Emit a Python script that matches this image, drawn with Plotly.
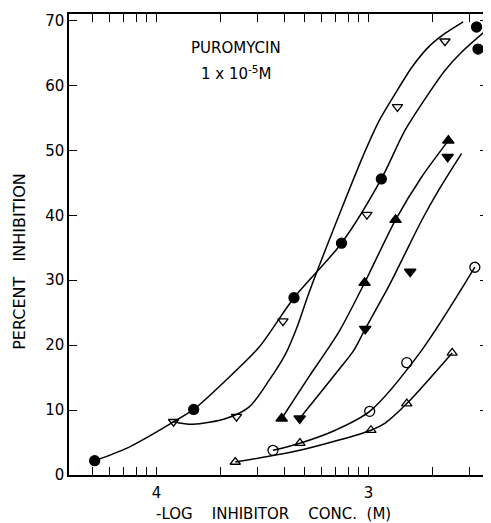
import plotly.graph_objects as go

# ---- data: x as -log10 inhibitor concentration (M), y as percent inhibition ----
filled_circle_x = [4.292, 3.825, 3.352, 3.128, 2.940, 2.491, 2.484]
filled_circle_y = [2.2, 10.1, 27.3, 35.7, 45.6, 69.0, 65.6]

open_down_x = [3.920, 3.623, 3.404, 3.008, 2.864, 2.640]
open_down_y = [8.2, 9.0, 23.7, 40.1, 56.7, 66.8]

filled_up_x = [3.410, 3.019, 2.873, 2.624]
filled_up_y = [8.7, 29.6, 39.3, 51.5]

filled_down_x = [3.325, 3.016, 2.804, 2.627]
filled_down_y = [8.7, 22.5, 31.3, 49.0]

open_circle_x = [3.451, 2.995, 2.820, 2.499]
open_circle_y = [3.8, 9.8, 17.3, 32.0]

open_up_x = [3.629, 3.324, 2.989, 2.820, 2.606]
open_up_y = [2.0, 4.9, 6.9, 11.0, 18.8]

# ---- hand-drawn fitted curves ----
curve_filled_circle_x = [4.292, 4.142, 3.986, 3.920, 3.825, 3.673, 3.516, 3.352,
                         3.128, 2.940, 2.828, 2.718, 2.640, 2.562, 2.445]
curve_filled_circle_y = [2.2, 4.1, 6.9, 8.2, 10.1, 14.6, 19.7, 27.3,
                         35.7, 45.6, 53.1, 58.7, 62.3, 65.1, 68.5]

curve_open_down_x = [3.920, 3.829, 3.673, 3.563, 3.469, 3.391, 3.335, 3.282,
                     3.125, 3.015, 2.953, 2.875, 2.796, 2.718, 2.640, 2.554]
curve_open_down_y = [8.2, 7.8, 8.7, 10.5, 14.6, 18.7, 23.0, 28.0,
                     41.2, 50.0, 54.4, 58.7, 62.8, 65.9, 68.0, 69.8]

curve_filled_up_x = [3.410, 3.282, 3.141, 3.019, 2.873, 2.750, 2.624]
curve_filled_up_y = [8.7, 15.1, 22.0, 29.6, 39.3, 45.9, 51.5]

curve_filled_down_x = [3.325, 3.141, 3.070, 3.016, 2.906, 2.828, 2.750, 2.671, 2.562]
curve_filled_down_y = [8.7, 16.2, 19.2, 22.5, 29.0, 34.1, 39.2, 43.8, 49.5]

curve_open_circle_x = [3.451, 3.324, 3.157, 2.995, 2.750, 2.499]
curve_open_circle_y = [3.8, 4.9, 6.9, 9.8, 19.2, 32.0]

curve_open_up_x = [3.629, 3.324, 2.989, 2.922, 2.820, 2.606]
curve_open_up_y = [2.0, 3.8, 6.9, 8.0, 11.0, 18.8]

major_tick_neglog = [4, 3]
major_tick_text = ["4", "3"]
minor_tick_conc = [5e-5, 6e-5, 7e-5, 8e-5, 9e-5,
                   2e-4, 3e-4, 4e-4, 5e-4, 6e-4, 7e-4, 8e-4, 9e-4,
                   2e-3, 3e-3]

y_ticks = [0, 10, 20, 30, 40, 50, 60, 70]


def conc(v):
    return [10 ** (-a) for a in v]


FONT = "DejaVu Sans"
fig = go.Figure()

curves = [
    (curve_filled_circle_x, curve_filled_circle_y),
    (curve_open_down_x, curve_open_down_y),
    (curve_filled_up_x, curve_filled_up_y),
    (curve_filled_down_x, curve_filled_down_y),
    (curve_open_circle_x, curve_open_circle_y),
    (curve_open_up_x, curve_open_up_y),
]
for cx, cy in curves:
    fig.add_trace(go.Scatter(x=conc(cx), y=cy, mode="lines",
                             line=dict(color="black", width=1.5, shape="spline", smoothing=0.8),
                             hoverinfo="skip", showlegend=False))

markers = [
    (filled_circle_x, filled_circle_y, "circle", 10),
    (open_down_x, open_down_y, "triangle-down-open", 9),
    (filled_up_x, filled_up_y, "triangle-up", 10),
    (filled_down_x, filled_down_y, "triangle-down", 10),
    (open_circle_x, open_circle_y, "circle-open", 10),
    (open_up_x, open_up_y, "triangle-up-open", 9),
]
for mx, my, sym, size in markers:
    fig.add_trace(go.Scatter(x=conc(mx), y=my, mode="markers",
                             marker=dict(symbol=sym, size=size, color="black",
                                         line=dict(color="black", width=1.3)),
                             showlegend=False))

fig.update_xaxes(
    type="log",
    range=[-4.413, -2.437],
    tickvals=conc(major_tick_neglog),
    ticktext=major_tick_text,
    ticks="inside", ticklen=8, tickwidth=1.2, tickcolor="black",
    minor=dict(tickvals=minor_tick_conc, ticks="inside", ticklen=8, tickwidth=1.2, tickcolor="black"),
    showline=True, linecolor="black", linewidth=1.5, mirror="ticks",
    showgrid=False, zeroline=False,
    tickfont=dict(family=FONT, size=15, color="black"),
    ticklabelstandoff=3,
)
fig.update_yaxes(
    range=[0, 71],
    tickvals=y_ticks,
    ticks="inside", ticklen=8, tickwidth=1.2, tickcolor="black",
    showline=True, linecolor="black", linewidth=1.5, mirror="ticks",
    showgrid=False, zeroline=False,
    tickfont=dict(family=FONT, size=15, color="black"),
)

nb = "\u00a0"
fig.add_annotation(text="PUROMYCIN", xref="paper", yref="paper", x=0.398, y=0.927,
                   xanchor="center", yanchor="middle",
                   showarrow=False, font=dict(family=FONT, size=15, color="black"))
fig.add_annotation(text="1 x 10<sup>-5</sup>M", xref="paper", yref="paper", x=0.398, y=0.872,
                   xanchor="center", yanchor="middle",
                   showarrow=False, font=dict(family=FONT, size=15, color="black"))
fig.add_annotation(text=f"-LOG{nb*4}INHIBITOR{nb*4}CONC.{nb*2}(M)", xref="paper", yref="paper",
                   x=0.487, y=-0.084, xanchor="center", yanchor="middle", showarrow=False,
                   font=dict(family=FONT, size=15, color="black"))
fig.add_annotation(text=f"PERCENT{nb*3}INHIBITION", xref="paper", yref="paper",
                   x=-0.12, y=0.464, xanchor="center", yanchor="middle",
                   textangle=-90, showarrow=False,
                   font=dict(family=FONT, size=16, color="black"))

# the page body adds an 8px margin, so the figure is sized to fit the 491x523 window
fig.update_layout(
    width=483, height=515,
    margin=dict(l=61, r=1, t=6, b=48),
    paper_bgcolor="white", plot_bgcolor="white",
    showlegend=False,
)

fig.write_html("out.html")
